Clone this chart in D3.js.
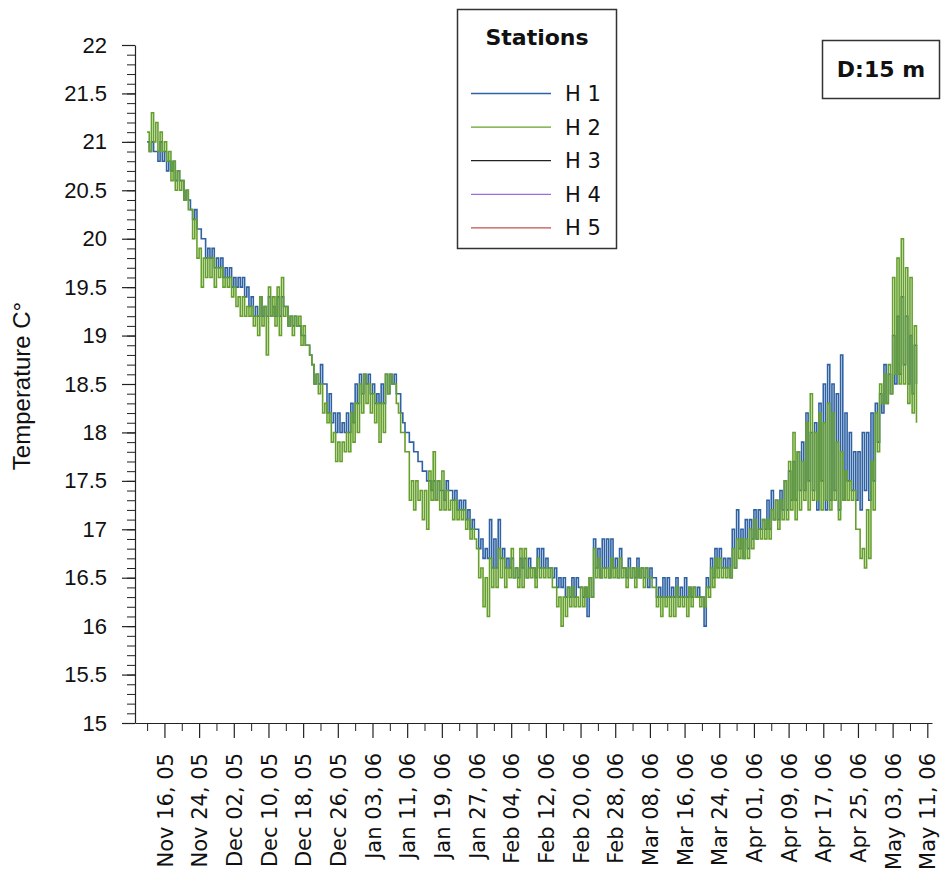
<!DOCTYPE html>
<html>
<head>
<meta charset="utf-8">
<script src="https://cdn.jsdelivr.net/npm/d3@7"></script>
<style>
  html, body { margin: 0; padding: 0; background: #fff; }
  svg { display: block; }
</style>
</head>
<body>
<svg id="chart" width="943" height="880"></svg>
<script>
// Station water temperature at 15 m depth, two readings per day (12 h apart)
const seriesStart = "2005-11-12T00:00:00Z";
const stepHours = 12;

const stationNames = ["H 1", "H 2", "H 3", "H 4", "H 5"];
const stationColors = ["#2f62a3", "#65a02c", "#222222", "#9a6ee0", "#c0504d"];

const H1 = [
  21.0,20.9, 21.0,20.9, 20.9,20.8, 21.0,20.8, 20.9,20.7, 20.8,20.7, 20.8,20.6, 20.7,20.6, 20.6,20.4, 20.5,20.4,
  20.3,20.2, 20.3,20.1, 20.1,20.0, 20.0,19.8, 19.9,19.8, 19.9,19.7, 19.8,19.7, 19.8,19.6, 19.7,19.6, 19.7,19.5,
  19.6,19.5, 19.6,19.5, 19.6,19.4, 19.5,19.3, 19.4,19.2, 19.3,19.2, 19.4,19.2, 19.3,19.2, 19.4,19.2, 19.3,19.2,
  19.4,19.2, 19.4,19.3, 19.3,19.1, 19.2,19.1, 19.2,19.1, 19.1,19.0, 19.0,18.9, 18.9,18.8, 18.7,18.5, 18.6,18.5,
  18.7,18.5, 18.5,18.2, 18.4,18.1, 18.2,18.0, 18.2,18.0, 18.1,18.0, 18.2,18.0, 18.3,18.1, 18.5,18.3, 18.6,18.4,
  18.6,18.5, 18.6,18.4, 18.5,18.3, 18.4,18.3, 18.5,18.3, 18.6,18.4, 18.6,18.5, 18.6,18.4, 18.4,18.2, 18.1,18.0,
  18.0,17.9, 17.9,17.8, 17.8,17.7, 17.7,17.6, 17.6,17.5, 17.5,17.4, 17.5,17.3, 17.5,17.4, 17.4,17.3, 17.5,17.4,
  17.4,17.3, 17.4,17.2, 17.3,17.2, 17.3,17.1, 17.2,17.0, 17.1,17.0, 17.0,16.8, 16.9,16.7, 16.8,16.7, 17.1,16.6,
  16.9,16.6, 17.1,16.7, 16.8,16.6, 16.7,16.6, 16.7,16.5, 16.6,16.5, 16.7,16.6, 16.7,16.5, 16.7,16.6, 16.6,16.5,
  16.8,16.6, 16.8,16.6, 16.7,16.6, 16.6,16.5, 16.6,16.4, 16.5,16.4, 16.5,16.3, 16.4,16.3, 16.5,16.3, 16.5,16.4,
  16.4,16.3, 16.4,16.1, 16.5,16.3, 16.9,16.6, 16.8,16.5, 16.9,16.6, 16.9,16.5, 16.9,16.6, 16.7,16.5, 16.8,16.6,
  16.6,16.5, 16.7,16.5, 16.6,16.5, 16.7,16.5, 16.6,16.5, 16.6,16.4, 16.6,16.5, 16.5,16.3, 16.4,16.3, 16.5,16.3,
  16.5,16.3, 16.4,16.3, 16.5,16.3, 16.4,16.3, 16.5,16.3, 16.4,16.3, 16.4,16.3, 16.4,16.3, 16.3,16.0, 16.5,16.4,
  16.7,16.5, 16.8,16.6, 16.8,16.6, 16.7,16.6, 16.7,16.5, 17.0,16.6, 17.2,16.8, 17.0,16.7, 17.1,16.8, 17.1,16.9,
  17.2,16.9, 17.2,17.0, 17.1,17.0, 17.3,17.0, 17.4,17.1, 17.3,17.1, 17.4,17.2, 17.5,17.2, 17.6,17.3, 17.7,17.3,
  17.8,17.4, 17.9,17.4, 18.2,17.5, 18.0,17.4, 18.1,17.2, 18.3,17.5, 18.5,17.2, 18.7,17.3, 18.5,17.4, 18.4,17.2,
  18.8,17.3, 18.2,17.5, 18.0,17.4, 17.8,17.3, 17.8,17.2, 18.0,17.4, 18.0,17.3, 18.2,17.5, 18.3,17.9, 18.4,18.2,
  18.7,18.3, 18.6,18.4, 19.0,18.5, 19.2,18.6, 19.4,18.7, 19.2,18.5, 19.0,18.4, 18.9,18.5
];

const H2 = [
  21.1,20.9, 21.3,21.0, 21.2,20.9, 21.1,20.9, 21.0,20.8, 20.9,20.6, 20.8,20.5, 20.7,20.5, 20.6,20.4, 20.5,20.3,
  20.3,20.0, 20.2,19.8, 19.9,19.5, 19.8,19.6, 19.8,19.6, 19.8,19.5, 19.7,19.6, 19.7,19.5, 19.6,19.5, 19.6,19.4,
  19.5,19.3, 19.4,19.2, 19.4,19.2, 19.3,19.2, 19.3,19.1, 19.2,19.0, 19.4,19.1, 19.3,18.8, 19.5,19.2, 19.4,19.1,
  19.5,19.0, 19.6,19.2, 19.3,19.1, 19.2,19.0, 19.2,19.1, 19.2,18.9, 19.1,18.9, 18.9,18.8, 18.7,18.5, 18.6,18.4,
  18.5,18.2, 18.3,18.1, 18.2,17.9, 18.0,17.7, 17.9,17.7, 17.9,17.8, 18.0,17.8, 18.2,17.9, 18.3,18.0, 18.5,18.2,
  18.6,18.3, 18.5,18.2, 18.4,18.1, 18.3,17.9, 18.3,18.0, 18.6,18.4, 18.6,18.5, 18.5,18.3, 18.2,18.0, 18.0,17.8,
  17.8,17.3, 17.5,17.2, 17.5,17.3, 17.4,17.1, 17.4,17.0, 17.6,17.3, 17.8,17.3, 17.5,17.2, 17.6,17.2, 17.4,17.2,
  17.3,17.1, 17.3,17.1, 17.2,17.1, 17.2,17.0, 17.1,16.9, 17.0,16.9, 16.8,16.5, 16.6,16.2, 16.5,16.1, 16.7,16.4,
  16.6,16.4, 16.8,16.5, 16.7,16.4, 16.6,16.5, 16.8,16.5, 16.6,16.4, 16.8,16.4, 16.8,16.5, 16.6,16.5, 16.6,16.4,
  16.7,16.5, 16.6,16.5, 16.6,16.5, 16.6,16.4, 16.4,16.2, 16.3,16.0, 16.3,16.1, 16.4,16.2, 16.4,16.2, 16.3,16.2,
  16.4,16.2, 16.4,16.3, 16.5,16.3, 16.8,16.5, 16.7,16.5, 16.6,16.5, 16.6,16.5, 16.7,16.5, 16.6,16.5, 16.7,16.5,
  16.6,16.4, 16.6,16.5, 16.6,16.4, 16.6,16.5, 16.6,16.4, 16.6,16.5, 16.5,16.4, 16.4,16.2, 16.3,16.1, 16.3,16.2,
  16.3,16.1, 16.3,16.1, 16.4,16.2, 16.3,16.2, 16.3,16.1, 16.4,16.2, 16.4,16.3, 16.3,16.2, 16.3,16.2, 16.4,16.3,
  16.6,16.4, 16.7,16.5, 16.7,16.5, 16.6,16.5, 16.6,16.5, 16.8,16.6, 16.9,16.7, 16.9,16.7, 16.9,16.7, 17.0,16.8,
  17.1,16.9, 17.0,16.9, 17.1,16.9, 17.1,16.9, 17.2,17.1, 17.3,17.0, 17.3,17.1, 17.5,17.1, 17.7,17.2, 18.0,17.1,
  17.8,17.2, 17.7,17.3, 18.1,17.2, 18.4,17.3, 18.0,17.3, 18.2,17.2, 18.1,17.3, 18.3,17.2, 18.2,17.3, 17.9,17.1,
  17.8,17.3, 17.6,17.3, 17.5,17.3, 17.4,17.0, 17.0,16.7, 16.8,16.6, 17.2,16.7, 17.7,17.2, 18.2,17.8, 18.5,18.3,
  18.6,18.3, 18.7,18.4, 19.6,18.6, 19.8,18.5, 20.0,18.5, 19.7,18.3, 19.6,18.2, 19.1,18.1
];

// No readings were logged for these stations
const H3 = [];
const H4 = [];
const H5 = [];

const yTickValues = [15, 15.5, 16, 16.5, 17, 17.5, 18, 18.5, 19, 19.5, 20, 20.5, 21, 21.5, 22];
const xTickLabels = [
  "2005-11-16", "2005-11-24", "2005-12-02", "2005-12-10", "2005-12-18", "2005-12-26",
  "2006-01-03", "2006-01-11", "2006-01-19", "2006-01-27", "2006-02-04", "2006-02-12",
  "2006-02-20", "2006-02-28", "2006-03-08", "2006-03-16", "2006-03-24", "2006-04-01",
  "2006-04-09", "2006-04-17", "2006-04-25", "2006-05-03", "2006-05-11"
];
const xDomain = ["2005-11-09T05:00:00Z", "2006-05-12T02:00:00Z"];
const yLabel = "Temperature C°";
const legendTitle = "Stations";
const depthLabel = "D:15 m";

// ---------------------------------------------------------------------------
const svg = d3.select("#chart");
const plot = { left: 135, right: 932, top: 45, bottom: 723 };

const x = d3.scaleUtc()
  .domain(xDomain.map(d => new Date(d)))
  .range([plot.left, plot.right]);
const y = d3.scaleLinear().domain([15, 22]).range([plot.bottom, plot.top]);

const t0 = new Date(seriesStart);
const toPoints = vals => vals.map((v, i) => ({ t: d3.utcHour.offset(t0, i * stepHours), v }));

const series = [H1, H2, H3, H4, H5].map((vals, i) => ({
  name: stationNames[i], color: stationColors[i], points: toPoints(vals)
}));

// y axis: minor ticks every 0.1, labelled ticks every 0.5
const yMinor = d3.range(150, 221).map(v => v / 10);
svg.append("g")
  .attr("transform", `translate(${plot.left},0)`)
  .call(d3.axisLeft(y).tickValues(yMinor).tickSize(8).tickSizeOuter(0).tickFormat(""))
  .call(g => g.select(".domain").remove())
  .selectAll("line").attr("stroke", "#222");

const yAxis = svg.append("g")
  .attr("transform", `translate(${plot.left},0)`)
  .call(d3.axisLeft(y).tickValues(yTickValues).tickSize(13).tickSizeOuter(0).tickPadding(15)
    .tickFormat(d => String(d)));
yAxis.selectAll("text")
  .attr("font-family", "'Liberation Sans', Arial, sans-serif")
  .attr("font-size", 22).attr("fill", "#111");
yAxis.selectAll("line, path").attr("stroke", "#222").attr("stroke-width", 1.2);

svg.append("text")
  .attr("transform", `translate(30,${(plot.top + plot.bottom) / 2 + 2}) rotate(-90)`)
  .attr("text-anchor", "middle")
  .attr("font-family", "'Liberation Sans', Arial, sans-serif")
  .attr("font-size", 24).attr("fill", "#111")
  .text(yLabel);

// x axis: labelled ticks every 8 days, minor ticks halfway between
const xMajor = xTickLabels.map(d => new Date(d + "T00:00:00Z"));
const xMinor = [d3.utcDay.offset(xMajor[0], -4)].concat(xMajor.slice(0, -1).map(d => d3.utcDay.offset(d, 4)));

svg.append("g")
  .attr("transform", `translate(0,${plot.bottom})`)
  .call(d3.axisBottom(x).tickValues(xMinor).tickSize(8).tickSizeOuter(0).tickFormat(""))
  .call(g => g.select(".domain").remove())
  .selectAll("line").attr("stroke", "#222");

const fmt = d3.utcFormat("%b %d, %y");
const xAxis = svg.append("g")
  .attr("transform", `translate(0,${plot.bottom})`)
  .call(d3.axisBottom(x).tickValues(xMajor).tickSize(15).tickSizeOuter(0).tickFormat(fmt));
xAxis.selectAll("line, path").attr("stroke", "#222").attr("stroke-width", 1.2);
xAxis.selectAll("text")
  .attr("transform", "rotate(-90)")
  .attr("x", -30).attr("y", 0).attr("dy", "0.36em")
  .attr("text-anchor", "end")
  .attr("font-family", "'DejaVu Sans', Verdana, sans-serif")
  .attr("font-size", 21).attr("fill", "#111");

// temperature traces
const line = d3.line()
  .x(d => x(d.t))
  .y(d => y(d.v))
  .curve(d3.curveStepAfter);

svg.append("g")
  .selectAll("path")
  .data(series.filter(s => s.points.length))
  .join("path")
  .attr("fill", "none")
  .attr("stroke", d => d.color)
  .attr("stroke-width", 1.6)
  .attr("d", d => line(d.points));

// legend
const lg = svg.append("g");
lg.append("rect")
  .attr("x", 457.5).attr("y", 9.5).attr("width", 159).attr("height", 239)
  .attr("fill", "#fff").attr("stroke", "#333").attr("stroke-width", 1.5);
lg.append("text")
  .attr("x", 537).attr("y", 45).attr("text-anchor", "middle")
  .attr("font-family", "'DejaVu Sans', Verdana, sans-serif")
  .attr("font-weight", "bold").attr("font-size", 22).attr("fill", "#111")
  .text(legendTitle);
const items = lg.selectAll("g.item").data(series).join("g")
  .attr("class", "item")
  .attr("transform", (d, i) => `translate(0,${93.5 + i * 33.6})`);
items.append("line")
  .attr("x1", 471).attr("x2", 551)
  .attr("stroke", d => d.color).attr("stroke-width", 1.3);
items.append("text")
  .attr("x", 565).attr("dy", "0.36em")
  .attr("font-family", "'DejaVu Sans', Verdana, sans-serif")
  .attr("font-size", 21).attr("fill", "#111")
  .text(d => d.name);

// depth box
svg.append("rect")
  .attr("x", 822.5).attr("y", 40.5).attr("width", 117).attr("height", 58)
  .attr("fill", "#fff").attr("stroke", "#333").attr("stroke-width", 1.5);
svg.append("text")
  .attr("x", 881).attr("y", 77).attr("text-anchor", "middle")
  .attr("font-family", "'DejaVu Sans', Verdana, sans-serif")
  .attr("font-weight", "bold").attr("font-size", 22).attr("fill", "#111")
  .text(depthLabel);
</script>
</body>
</html>
